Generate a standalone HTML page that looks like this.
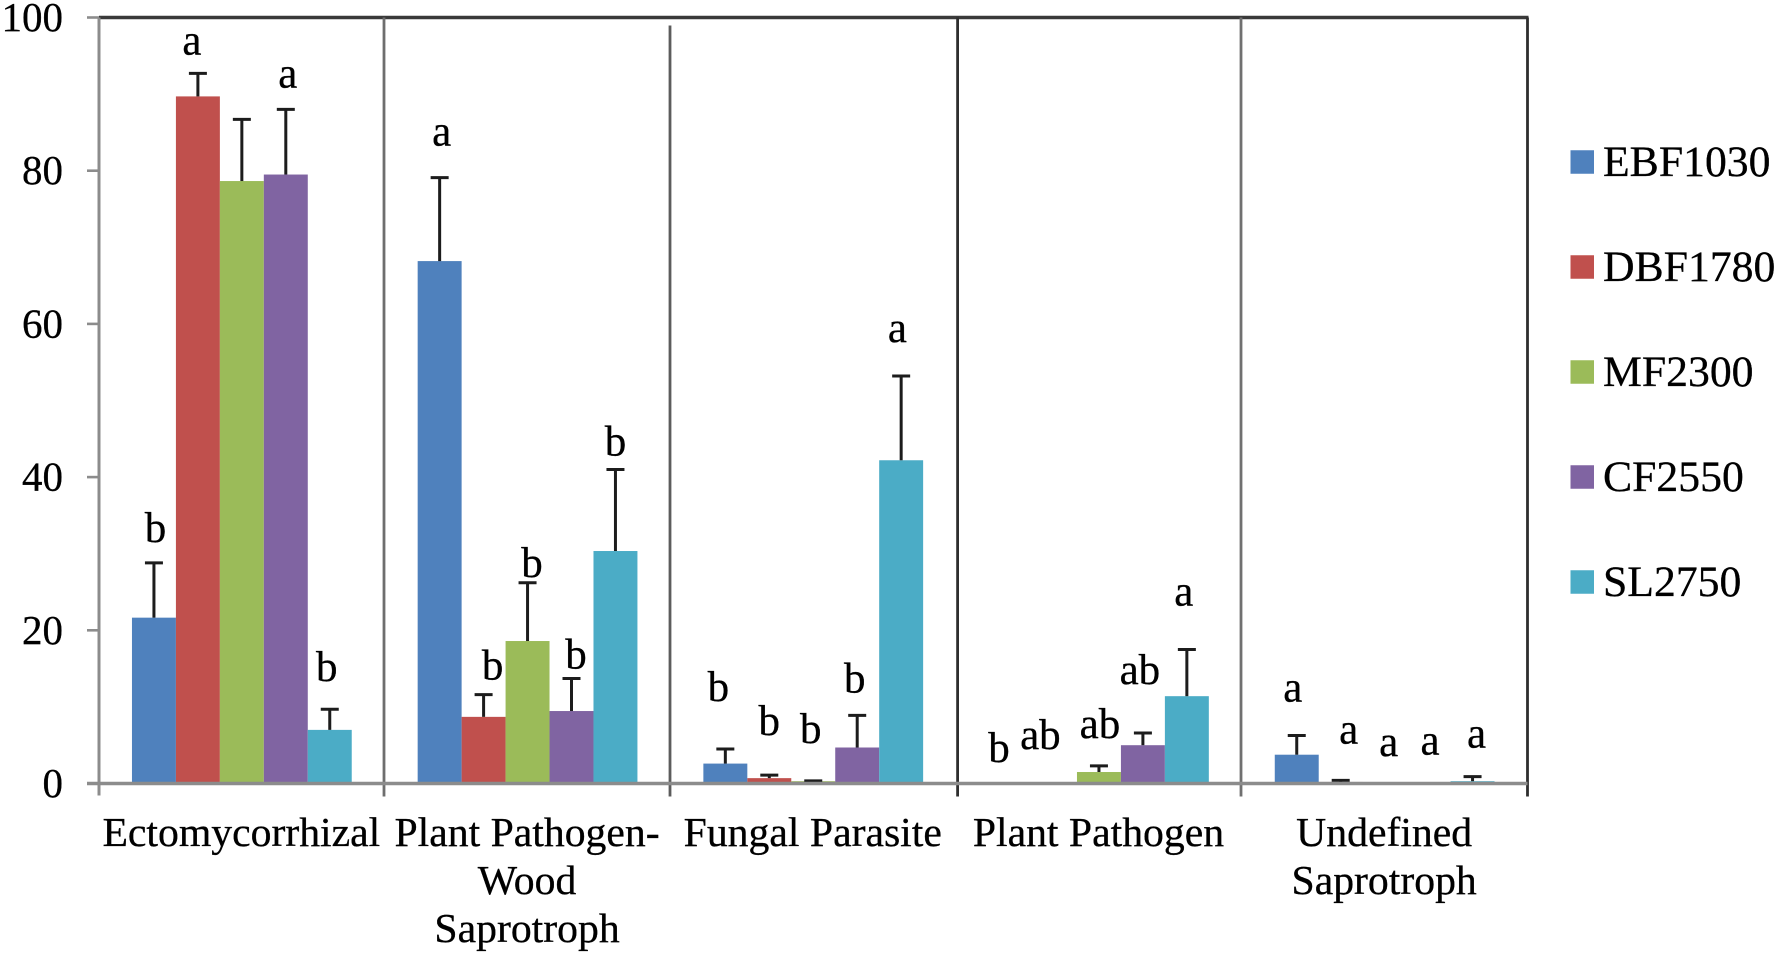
<!DOCTYPE html>
<html lang="en">
<head>
<meta charset="utf-8">
<title>Fungal guilds by site</title>
<style>
  html, body { margin: 0; padding: 0; background: #fff; }
  svg { display: block; }
  text { font-family: "Liberation Serif", "Times New Roman", serif; fill: #000; stroke: #000; stroke-width: 0.3px; }
</style>
</head>
<body>
<svg id="chart" width="1781" height="956" viewBox="0 0 1781 956" xmlns="http://www.w3.org/2000/svg"></svg>
<script>
const categories = [["Ectomycorrhizal"], ["Plant Pathogen-", "Wood", "Saprotroph"], ["Fungal Parasite"], ["Plant Pathogen"], ["Undefined", "Saprotroph"]];
const seriesNames = ["EBF1030", "DBF1780", "MF2300", "CF2550", "SL2750"];
const seriesColors = ["#4F81BD", "#C0504D", "#9BBB59", "#8064A2", "#4BACC6"];
const yTicks = [0, 20, 40, 60, 80, 100];

const ebf1030 = [21.65, 68.2, 2.6, 0, 3.76];
const dbf1780 = [89.7, 8.7, 0.7, 0, 0.2];
const mf2300 = [78.65, 18.6, 0.3, 1.5, 0.05];
const cf2550 = [79.5, 9.46, 4.7, 5.0, 0.15];
const sl2750 = [7.0, 30.35, 42.2, 11.4, 0.3];

const ebf1030Err = [7.15, 10.9, 1.9, 0, 2.5];
const dbf1780Err = [3.0, 2.9, 0.4, 0, 0.2];
const mf2300Err = [8.05, 7.6, 0.05, 0.8, 0];
const cf2550Err = [8.5, 4.24, 4.2, 1.6, 0];
const sl2750Err = [2.7, 10.65, 11, 6.1, 0.6];

const ebf1030Sig = ["b", "a", "b", "b", "a"];
const dbf1780Sig = ["a", "b", "b", "ab", "a"];
const mf2300Sig = ["", "b", "b", "ab", "a"];
const cf2550Sig = ["a", "b", "b", "ab", "a"];
const sl2750Sig = ["b", "b", "a", "a", "a"];

const seriesValues = [ebf1030, dbf1780, mf2300, cf2550, sl2750];
const seriesErrors = [ebf1030Err, dbf1780Err, mf2300Err, cf2550Err, sl2750Err];
const seriesSig = [ebf1030Sig, dbf1780Sig, mf2300Sig, cf2550Sig, sl2750Sig];

// Layout (pixels)
const plot = { left: 99, right: 1527.5, top: 17.5, bottom: 783.5 };
const FONT = 41.7;
const TICK_FONT = 41;
const SIG_FONT = 43;
const sigLift = [[21, 32, 48, 21.5, 34], [19, 15, 40, 34.5, 37], [0, 6, 38, 28, 27], [22, 10, 23, 49, 28], [28, 14, 34, 44, 29]];
const sigNudge = [[1.5, 2, -7, -12, -4], [-6, 9, 0, -14.6, 8], [0, 4.4, -2.5, 1, 4], [2, 4.5, -2.5, -3, 1.4], [-3, 0, -3.7, -3, 4]];
const legendLayout = { swatchX: 1570.5, swatchSize: 23.5, textX: 1603, firstRow: 162, rowStep: 105, fontSize: 43.7 };
const separatorStyle = [
  { nudge: -0.7, color: '#6e6e6e', startGap: 0 },
  { nudge: -0.4, color: '#5c5c5c', startGap: 8 },
  { nudge: 1.5, color: '#2e2e2e', startGap: 0 },
  { nudge: -0.8, color: '#707070', startGap: 0 },
  { nudge: 0, color: '#2e2e2e', startGap: 0 }
];

const svg = document.getElementById('chart');
const NS = 'http://www.w3.org/2000/svg';
function make(tag, attrs, parent, text) {
  const node = document.createElementNS(NS, tag);
  for (const k in attrs) node.setAttribute(k, attrs[k]);
  if (text !== undefined) node.textContent = text;
  (parent || svg).appendChild(node);
  return node;
}
const bandW = (plot.right - plot.left) / categories.length;
const barW = bandW / 6.5;
function yScale(v) { return plot.bottom - (v / 100) * (plot.bottom - plot.top); }
function bandX(c) { return plot.left + c * bandW; }
function barX(c, s) { return bandX(c) + 0.75 * barW + s * barW; }

// bars
seriesNames.forEach(function (name, s) {
  const group = make('g', {});
  
  
  categories.forEach(function (cat, c) {
    const v = seriesValues[s][c];
    if (v <= 0) return;
    const bar = make('rect', { x: barX(c, s), y: yScale(v), width: barW, height: plot.bottom - yScale(v), fill: seriesColors[s] }, group);
    
    
  });
});

// error bars
seriesNames.forEach(function (name, s) {
  categories.forEach(function (cat, c) {
    const v = seriesValues[s][c], e = seriesErrors[s][c];
    if (e <= 0) return;
    const cx = barX(c, s) + barW / 2;
    const top = yScale(v + e);
    const eg = make('g', { stroke: '#1c1c1c', 'stroke-width': 3, fill: 'none' });
    
    
    make('line', { x1: cx, x2: cx, y1: yScale(v), y2: top }, eg);
    make('line', { x1: cx - 9, x2: cx + 9, y1: top, y2: top }, eg);
  });
});

// frame and axes
const axes = make('g', { fill: 'none' });


const topBorder = make('line', { x1: plot.left, x2: plot.right + 1, y1: plot.top, y2: plot.top, stroke: '#3a3a3a', 'stroke-width': 3.6 }, axes);


const yAxis = make('line', { x1: plot.left, x2: plot.left, y1: plot.top, y2: plot.bottom + 12, stroke: '#8c8c8c', 'stroke-width': 3 }, axes);


for (let i = 1; i <= categories.length; i++) {
  const st = separatorStyle[i - 1];
  const sep = make('line', { x1: bandX(i) + st.nudge, x2: bandX(i) + st.nudge, y1: plot.top + st.startGap, y2: plot.bottom + 13, stroke: st.color, 'stroke-width': 2.8 }, axes);
  
  
}
const xAxis = make('line', { x1: plot.left - 12, x2: plot.right, y1: plot.bottom, y2: plot.bottom, stroke: '#8c8c8c', 'stroke-width': 3.4 }, axes);



// y ticks
yTicks.forEach(function (t) {
  const tick = make('line', { x1: plot.left - 12, x2: plot.left, y1: yScale(t), y2: yScale(t), stroke: '#8c8c8c', 'stroke-width': 2.6 });
  
  
  const label = make('text', { x: 63, y: yScale(t) + 13.5, 'text-anchor': 'end', 'font-size': TICK_FONT }, svg, String(t));
  
  
});

// category labels
categories.forEach(function (lines, c) {
  const cx = bandX(c) + bandW / 2 - 0.5;
  lines.forEach(function (line, i) {
    const label = make('text', { x: cx, y: 846 + i * 48, 'text-anchor': 'middle', 'font-size': FONT }, svg, line);
    
    
  });
});

// significance letters
seriesNames.forEach(function (name, s) {
  categories.forEach(function (cat, c) {
    const letter = seriesSig[s][c];
    if (!letter) return;
    const cx = barX(c, s) + barW / 2 + sigNudge[s][c];
    const baseY = yScale(seriesValues[s][c] + seriesErrors[s][c]) - sigLift[s][c];
    const label = make('text', { x: cx, y: baseY, 'text-anchor': 'middle', 'font-size': SIG_FONT }, svg, letter);
    
    
  });
});

// legend
const legend = make('g', {});


seriesNames.forEach(function (name, s) {
  const rowY = legendLayout.firstRow + s * legendLayout.rowStep;
  const entry = make('g', {}, legend);
  
  
  const swatch = make('rect', { x: legendLayout.swatchX, y: rowY - legendLayout.swatchSize / 2, width: legendLayout.swatchSize, height: legendLayout.swatchSize, fill: seriesColors[s] }, entry);
  
  
  const label = make('text', { x: legendLayout.textX, y: rowY + 14, 'font-size': legendLayout.fontSize }, entry, name);
  
  
});
</script>
</body>
</html>
